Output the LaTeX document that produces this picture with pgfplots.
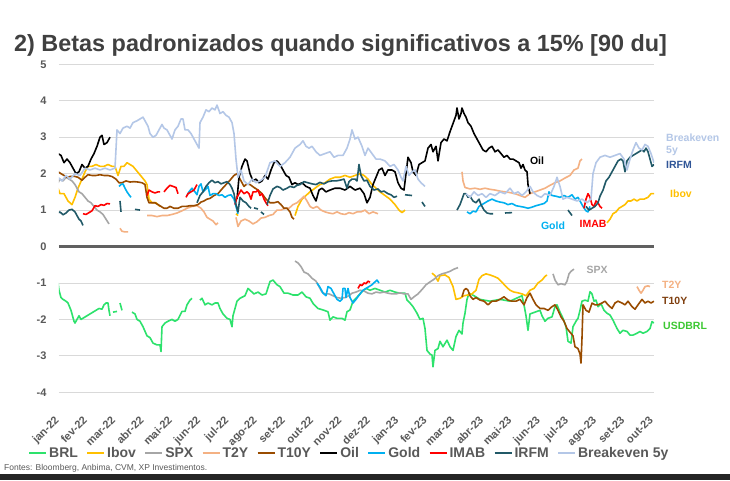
\documentclass[border=0pt]{standalone}
\usepackage{fontspec}
\setmainfont{Liberation Sans}
\usepackage{pgfplots}
\pgfplotsset{compat=1.18}
\definecolor{brl}{RGB}{45,226,108}
\definecolor{ibov}{RGB}{255,192,0}
\definecolor{spx}{RGB}{166,166,166}
\definecolor{ttwo}{RGB}{244,177,131}
\definecolor{tten}{RGB}{153,76,0}
\definecolor{gold}{RGB}{0,176,240}
\definecolor{imab}{RGB}{255,0,0}
\definecolor{irfm}{RGB}{33,89,103}
\definecolor{bk}{RGB}{180,199,231}
\definecolor{irfmlab}{RGB}{47,85,151}
\definecolor{tenlab}{RGB}{127,63,15}
\definecolor{brllab}{RGB}{60,200,50}
\definecolor{labelgrey}{RGB}{89,89,89}
\definecolor{titlegrey}{RGB}{64,64,64}
\definecolor{gridgrey}{RGB}{217,217,217}
\definecolor{zerogrey}{RGB}{96,96,96}
\definecolor{darkbar}{RGB}{38,38,38}
\begin{document}
\begin{tikzpicture}
\path[use as bounding box] (0pt,0pt) rectangle (730pt,480pt);
\fill[white] (0pt,0pt) rectangle (730pt,480pt);
\fill[darkbar] (0pt,0pt) rectangle (730pt,6pt);
\node[anchor=base west, inner sep=0, text=titlegrey, font=\bfseries\fontsize{23.4}{27}\selectfont] at (14pt,428pt) {2) Betas padronizados quando significativos a 15\% [90 du]};
\node[anchor=base west, inner sep=0, text=labelgrey, font=\fontsize{8.5}{10}\selectfont] at (4pt,10pt) {Fontes: Bloomberg, Anbima, CVM, XP Investimentos.};
\begin{axis}[
  at={(59pt,87.7pt)}, anchor=south west,
  scale only axis, width=595pt, height=328pt,
  xmin=59, xmax=654, ymin=-4, ymax=5,
  axis line style={draw=none},
  major tick style={draw=none},
  ytick={-4,-3,-2,-1,0,1,2,3,4,5},
  yticklabels={-4,-3,-2,-1,0,1,2,3,4,5},
  yticklabel style={font=\bfseries\fontsize{11}{12}\selectfont, text=labelgrey, xshift=-9pt},
  ymajorgrids, grid style={gridgrey, line width=0.9pt},
  xtick={59.5,87.8,116.1,144.4,172.7,201,229.3,257.6,285.9,314.2,342.5,370.8,399.1,427.4,455.7,484,512.3,540.6,568.9,597.2,625.5,653.8},
  xticklabels={jan-22,fev-22,mar-22,abr-22,mai-22,jun-22,jul-22,ago-22,set-22,out-22,nov-22,dez-22,jan-23,fev-23,mar-23,abr-23,mai-23,jun-23,jul-23,ago-23,set-23,out-23},
  xticklabel style={rotate=45, anchor=north east, xshift=-17pt, yshift=-9pt, font=\bfseries\fontsize{11}{12}\selectfont, text=labelgrey},
  unbounded coords=jump,
  every axis plot/.append style={line width=1.6pt, line join=round},
  legend style={at={(0.488,-0.186)}, anchor=center, draw=none, fill=none, font=\bfseries\fontsize{14}{16}\selectfont, text=labelgrey, legend columns=-1, /tikz/every even column/.append style={column sep=6.5pt}},
  legend image code/.code={\draw[#1, line width=1.8pt] (0pt,0pt) -- (17pt,0pt);},
]
\addlegendimage{brl}\addlegendentry{BRL}
\addlegendimage{ibov}\addlegendentry{Ibov}
\addlegendimage{spx}\addlegendentry{SPX}
\addlegendimage{ttwo}\addlegendentry{T2Y}
\addlegendimage{tten}\addlegendentry{T10Y}
\addlegendimage{black}\addlegendentry{Oil}
\addlegendimage{gold}\addlegendentry{Gold}
\addlegendimage{imab}\addlegendentry{IMAB}
\addlegendimage{irfm}\addlegendentry{IRFM}
\addlegendimage{bk}\addlegendentry{Breakeven 5y}

\addplot[forget plot, zerogrey, line width=2.4pt] coordinates {(59,0) (654,0)};

% BRL
\addplot[forget plot, brl] coordinates {
(58,-1.0) (59,-1.2) (61,-1.4) (63,-1.45) (66,-1.5) (68,-1.55) (71,-1.75) (74,-2.05) (75,-2.1) (77,-2.0) (79,-1.9) (81,-2.0) (84,-1.95) (87,-1.9) (90,-1.85) (93,-1.8) (96,-1.75) (99,-1.7) (102,-1.72) (104,-1.6) (106,-1.55) (108,-1.55) (109,-1.75) (110,-1.9)
(112,nan) (113,-1.8) (117,-1.78) (118,nan) (120,-1.55) (122,-1.75) (124,nan)
(132,-1.8) (135,-1.85) (137,-2.0) (140,-2.05) (143,-2.2) (147,-2.45) (150,-2.5) (153,-2.65) (157,-2.7) (160,-2.7) (161,-2.88) (162,-2.2) (165,-2.1) (168,-2.05) (172,-2.0) (175,-2.05) (178,-2.0) (182,-1.78) (185,-1.78) (187,-1.6) (190,-1.47) (192,-1.42)
(195,nan) (200,-1.47) (202,-1.42) (205,-1.6) (208,-1.55) (212,-1.6) (215,-1.55) (218,-1.55) (220,-1.7) (223,-1.85) (227,-1.97) (230,-2.0) (232,-2.2) (233,-1.9) (237,-1.5) (240,-1.42) (245,-1.35) (248,-1.15) (250,-1.2) (254,-1.3) (258,-1.25) (262,-1.33) (266,-1.3) (270,-0.96) (273,-0.92) (277,-1.05) (280,-1.1) (284,-1.28) (288,-1.28) (293,-1.33) (298,-1.33) (302,-1.25) (306,-1.38) (310,-1.42) (313,-1.56) (318,-1.7) (323,-1.74) (328,-1.79) (330,-2.02) (333,-1.93) (337,-1.97) (342,-1.97) (345,-2.02) (347,-1.79) (350,-1.74) (353,-1.5) (356,-1.42) (359,-1.33) (362,-1.24) (366,-1.15) (370,-1.2) (375,-1.15) (380,-1.2) (385,-1.25) (390,-1.2) (395,-1.25) (400,-1.28) (405,-1.28) (407,-1.47) (410,-1.55) (413,-1.65) (417,-1.83) (420,-2.0) (423,-1.97) (425,-2.25) (427,-2.85) (430,-2.95) (432,-2.98) (433,-3.3) (435,-2.85) (438,-2.8) (440,-2.6) (443,-2.75) (447,-2.57) (450,-2.75) (453,-2.85) (456,-2.47) (459,-2.3) (462,-2.4) (463,-2.1) (465,-1.83) (467,-1.45) (469,-1.28) (474,-1.35) (480,-1.45) (490,-1.5) (500,-1.45) (510,-1.5) (518,-1.4) (522,-1.35) (524,-1.6) (526,-1.9) (528,-2.3) (530,-1.85) (535,-1.8) (540,-1.75) (542,-1.9) (545,-2.05) (548,-1.97) (552,-1.93) (555,-1.65) (557,-1.6) (560,-1.8) (563,-1.97) (566,-2.2) (568,-2.6) (571,-2.65) (573,-2.2) (576,-2.05) (578,-1.97) (580,-1.75) (582,-1.5) (585,-1.47) (588,-1.5) (590,-1.24) (592,-1.3) (594,-1.5) (596,-1.47) (598,-1.65) (601,-1.57) (604,-1.75) (607,-1.83) (610,-1.88) (613,-2.02) (617,-2.25) (620,-2.38) (623,-2.3) (627,-2.33) (630,-2.43) (633,-2.43) (637,-2.38) (640,-2.33) (643,-2.38) (647,-2.33) (650,-2.25) (652,-2.06) (654,-2.1)
};

% Ibov
\addplot[forget plot, ibov] coordinates {
(58,1.6) (60,1.45) (64,1.45) (68,1.25) (72,1.15) (75,1.35) (78,1.6) (82,1.85) (85,2.05) (88,2.2) (92,2.2) (96,2.25) (100,2.2) (104,2.2) (108,2.25) (112,2.2) (115,2.2) (118,1.95) (121,2.2) (124,2.2) (127,2.3) (130,2.25) (133,2.2) (136,2.1) (139,2.0) (142,1.9) (145,1.8) (147,1.7) (149,1.3) (152,1.2) (156,1.2) (160,1.1)
(162,nan) (236,0.9) (238,0.85) (240,nan)
(295,0.85) (298,1.1) (302,1.3) (306,1.4) (310,1.5) (315,1.6) (320,1.7) (325,1.75) (330,1.85) (335,1.9) (340,1.9) (345,1.95) (350,1.9) (355,1.95) (360,2.0) (364,1.95) (368,1.85) (372,1.7) (376,1.6) (380,1.5) (385,1.4) (390,1.3) (395,1.15) (399,1.0) (402,0.93) (405,1.0)
(410,nan) (432,-0.73) (435,-0.8) (438,-0.95) (440,-0.8) (445,-0.78) (449,-0.85) (453,-1.1) (456,-1.45) (460,-1.42) (464,-1.35) (468,-1.33) (472,-1.3) (476,-1.2) (479,-0.9) (482,-0.8) (486,-0.75) (490,-0.78) (494,-0.82) (498,-0.87) (502,-0.98) (506,-1.1) (510,-1.2) (514,-1.25) (518,-1.27) (522,-1.3) (526,-1.35) (530,-1.2) (534,-1.15) (538,-1.0) (542,-0.92) (545,-0.82) (547,-0.78)
(550,nan) (607,0.65) (610,0.75) (613,0.9) (616,0.95) (619,1.05) (622,1.1) (625,1.15) (628,1.25) (631,1.25) (634,1.3) (637,1.25) (640,1.3) (644,1.3) (648,1.35) (651,1.45) (654,1.45)
};

% SPX
\addplot[forget plot, spx] coordinates {
(58,1.75) (60,1.85) (63,1.8) (66,1.9) (69,1.85) (72,1.8) (75,1.7) (77,1.6) (79,1.5) (82,1.45) (85,1.35) (88,1.25) (91,1.2) (94,1.1) (97,1.0) (100,0.95) (103,0.88) (106,0.75) (109,0.62)
(112,nan) (295,-0.4) (298,-0.45) (301,-0.55) (304,-0.7) (308,-0.75) (312,-0.87) (316,-0.95) (319,-1.1) (322,-1.25) (325,-1.3) (329,-1.3) (333,-1.35) (337,-1.4) (341,-1.42) (345,-1.4) (349,-1.35) (352,-1.28) (356,-1.25) (360,-1.2) (364,-1.22) (368,-1.28) (372,-1.3) (376,-1.25) (380,-1.27) (384,-1.25) (388,-1.28) (392,-1.3) (396,-1.3) (400,-1.27) (404,-1.3) (408,-1.3) (411,-1.45) (414,-1.38) (418,-1.3) (422,-1.18) (426,-1.05) (430,-0.97) (434,-0.9) (438,-0.8) (442,-0.75) (446,-0.72) (450,-0.68) (454,-0.62) (458,-0.58)
(500,nan) (553,-0.75) (555,-0.92) (558,-1.05) (561,-1.02) (565,-1.05) (567,-0.95) (569,-0.75) (571,-0.68) (574,-0.62)
};

% T2Y
\addplot[forget plot, ttwo] coordinates {
(120,0.5) (122,0.42) (125,0.4) (128,0.4)
(135,nan) (147,0.85) (152,0.85) (157,0.82) (162,0.85) (167,0.85) (172,0.88) (177,0.92) (182,0.98) (187,1.05) (192,1.1) (197,1.12) (201,1.05) (204,0.95) (207,0.8) (210,0.75) (213,0.7) (216,0.6) (218,0.65)
(225,nan) (236,0.8) (238,0.55) (241,0.7) (245,0.75) (249,0.7) (253,0.62) (257,0.68) (261,0.78) (265,0.8) (269,0.85) (273,0.88) (277,1.0) (281,1.0) (285,1.05) (289,1.05) (293,1.15) (297,1.2) (301,1.3) (304,1.38) (307,1.25) (310,1.1) (313,1.05) (317,1.1) (321,1.0) (325,0.95) (329,0.92) (333,0.9) (337,0.95) (341,0.9) (345,0.88) (349,0.93) (353,0.9) (357,0.95) (361,0.95) (365,1.0) (369,0.9) (373,0.95) (378,0.9)
(400,nan) (462,2.05) (463,1.8) (465,1.62) (470,1.58) (475,1.6) (480,1.57) (485,1.6) (490,1.57) (495,1.55) (500,1.52) (505,1.5) (510,1.48) (515,1.45) (520,1.4) (525,1.35) (530,1.45) (535,1.5) (540,1.55) (545,1.6) (550,1.68) (555,1.75) (560,1.8) (565,1.88) (570,1.95) (574,2.1) (578,2.15) (580,2.35) (582,2.4)
(600,nan) (637,-1.1) (639,-1.2) (641,-1.28) (643,-1.2) (645,-1.1) (648,-1.08) (650,-1.1)
};

% T10Y
\addplot[forget plot, tten] coordinates {
(58,2.05) (61,2.0) (64,1.95) (67,1.9) (70,1.92) (74,1.93) (78,1.9) (82,1.82) (85,1.9) (88,1.97) (92,1.95) (96,1.95) (100,1.97) (104,1.95) (108,1.95) (112,1.92) (116,1.85) (119,1.75) (122,1.75) (126,1.8) (130,1.77) (134,1.78) (138,1.77) (142,1.75) (145,1.7) (147,1.35) (149,1.2) (152,1.2) (155,1.2) (158,1.15) (161,1.1) (164,1.05) (167,1.05) (170,1.1) (174,1.05) (178,1.05) (182,1.1) (186,1.1) (190,1.12) (194,1.12) (198,1.15) (201,1.22) (204,1.25) (207,1.3) (210,1.32) (214,1.4) (218,1.45) (222,1.58) (226,1.7) (230,1.82) (234,1.95) (237,2.0) (239,1.9) (242,1.75) (244,1.65) (247,1.72) (250,1.7) (254,1.62) (258,1.55) (262,1.45) (266,1.3) (270,1.2) (274,1.2) (278,1.23) (281,1.15) (284,1.05) (287,1.05) (290,0.95) (292,0.8) (294,0.75)
(300,nan) (462,-1.38) (464,-1.2) (466,-1.15) (468,-1.2) (470,-1.35) (473,-1.45) (476,-1.4) (480,-1.47) (484,-1.5) (488,-1.6) (492,-1.5) (496,-1.5) (500,-1.45) (504,-1.38) (508,-1.47) (512,-1.5) (516,-1.5) (520,-1.45) (524,-1.6) (527,-1.4) (530,-1.28) (533,-1.45) (536,-1.6) (540,-1.7) (544,-1.7) (548,-1.75) (552,-1.65) (555,-1.6) (558,-1.75) (561,-1.93) (564,-2.05) (567,-2.25) (570,-2.35) (573,-2.45) (575,-2.75) (578,-2.8) (580,-2.95) (581,-3.2) (582,-2.5) (583,-1.6) (586,-1.75) (589,-1.8) (592,-1.55) (595,-1.6) (598,-1.6) (602,-1.55) (605,-1.5) (608,-1.6) (612,-1.7) (615,-1.55) (618,-1.5) (622,-1.55) (625,-1.6) (628,-1.5) (632,-1.65) (635,-1.72) (638,-1.6) (642,-1.45) (645,-1.55) (648,-1.5) (651,-1.55) (654,-1.5)
};

% Oil
\addplot[forget plot, black] coordinates {
(58,2.55) (61,2.5) (64,2.3) (67,2.4) (70,2.3) (73,2.15) (76,2.0) (79,2.05) (82,2.25) (85,2.15) (88,2.2) (91,2.4) (94,2.55) (97,2.75) (100,3.0) (102,3.05) (104,2.8) (107,2.85) (110,3.0)
(120,nan) (237,1.3) (239,1.9) (242,2.2) (245,2.4) (247,2.35) (250,2.0) (253,1.8) (256,1.85) (259,1.75) (262,1.8) (265,1.95) (268,1.85) (271,2.1) (274,2.3) (277,2.35) (280,2.25) (283,2.1) (286,1.95) (289,1.9) (292,1.7) (295,1.75) (298,1.7) (302,1.75) (306,1.65) (310,1.6) (313,1.4) (316,1.25) (319,1.55) (322,1.6) (326,1.5) (330,1.55) (335,1.6) (340,1.6) (345,1.55) (350,1.65) (355,1.55) (360,1.6) (364,1.45) (367,1.2) (370,1.35) (373,1.7) (376,1.9) (379,2.1) (382,2.15) (385,1.95) (388,2.1) (392,2.1) (395,2.05) (398,1.75) (401,1.6) (404,1.55) (406,2.0) (408,2.45) (411,2.3) (413,2.05) (416,1.95) (419,2.25) (422,2.3) (425,2.35) (428,2.7) (431,2.8) (433,2.6) (436,2.75) (438,2.35) (441,2.85) (444,2.95) (447,2.9) (450,3.15) (452,3.3) (454,3.45) (456,3.6) (457,3.8) (459,3.5) (461,3.65) (462,3.8) (464,3.65) (466,3.55) (468,3.4) (471,3.3) (474,3.1) (477,2.95) (480,2.8) (483,2.65) (486,2.6) (489,2.7) (492,2.75) (495,2.6) (498,2.65) (501,2.55) (504,2.45) (507,2.5) (510,2.4) (513,2.4) (516,2.35) (519,2.3) (521,2.15) (523,2.25) (525,2.1) (527,2.05) (528,1.7) (530,1.45)
};

% Gold
\addplot[forget plot, gold] coordinates {
(119,1.65) (121,1.7) (123,1.72) (125,1.6) (127,1.5) (129,1.42) (131,1.35)
(140,nan) (187,1.4) (189,1.5) (192,1.6) (195,1.5) (197,1.42) (199,1.65) (201,1.72) (203,1.5) (206,1.58) (208,1.65) (210,1.4) (213,1.45) (216,1.45) (219,1.4) (222,1.42) (225,1.35) (228,1.4) (231,1.42) (234,1.3) (236,1.1) (238,0.9)
(250,nan) (317,-1.0) (320,-1.12) (323,-1.28) (326,-1.35) (328,-1.1) (331,-1.15) (334,-1.3) (337,-1.45) (340,-1.5) (342,-1.45) (343,-1.15) (345,-1.15) (346,-1.4) (348,-1.15) (350,-1.4) (353,-1.55) (356,-1.45) (360,-1.3) (363,-1.2) (366,-1.15) (369,-1.1) (372,-1.05) (375,-0.97) (377,-0.92) (379,-1.0)
(400,nan) (467,0.95) (470,0.9) (473,0.97) (476,0.95) (479,1.1) (482,1.15) (485,1.2) (488,1.25) (492,1.3) (496,1.25) (500,1.22) (504,1.2) (508,1.15) (512,1.18) (516,1.12) (520,1.1) (524,1.08) (528,1.05) (532,1.08) (536,1.12) (540,1.15) (544,1.18) (547,1.25) (549,1.5) (552,1.4) (556,1.38) (560,1.35) (564,1.4) (568,1.35) (572,1.42) (575,1.3) (578,1.35) (580,1.25) (583,1.1) (586,0.98) (588,0.95) (590,1.1)
};

% IMAB
\addplot[forget plot, imab] coordinates {
(83,0.9) (86,0.88) (89,0.93) (92,0.98) (95,1.12) (98,1.1) (101,1.15) (104,1.13) (107,1.18) (110,1.17)
(120,nan) (147,1.4) (149,1.55) (152,1.5) (155,1.47) (158,1.5) (160,1.5)
(162,nan) (164,1.5) (167,1.6) (170,1.68) (173,1.65) (176,1.62) (178,1.45)
(182,nan) (186,1.35) (188,1.45) (191,1.5) (194,1.55) (197,1.7)
(210,nan) (235,1.15) (237,1.35) (239,1.45) (241,1.55) (244,1.45) (247,1.5) (249,1.45) (251,1.3) (253,1.5) (256,1.5) (258,1.55) (260,1.4) (262,1.45) (264,1.3) (266,1.2) (268,1.12)
(300,nan) (358,-1.15) (360,-1.05) (362,-1.07) (364,-1.0) (366,-1.02) (368,-0.95) (370,-0.98)
(400,nan) (584,1.05) (586,1.3) (588,1.45) (590,1.35) (592,1.15) (594,1.1) (596,1.25) (598,1.2) (600,1.1) (602,1.05)
};

% IRFM
\addplot[forget plot, irfm] coordinates {
(58,0.92) (60,0.95) (63,0.87) (66,0.92) (69,1.0) (72,1.02) (75,0.95) (77,0.85) (79,0.75) (81,0.7) (83,0.58)
(100,nan) (120,1.25) (121,0.95) (125,nan) (135,1.02) (140,1.0)
(150,nan) (197,1.2) (200,1.4) (203,1.5) (206,1.65) (209,1.75) (212,1.82) (215,1.75) (218,1.78) (221,1.72) (224,1.75) (227,1.78) (230,1.7) (232,1.6) (234,1.45) (236,1.15) (238,0.95) (240,1.35) (243,1.25) (246,1.2) (249,1.1) (251,1.05)
(252,nan) (254,1.06) (258,1.03) (259,nan) (261,0.95) (264,0.88) (265,nan)
(267,1.15) (270,1.4) (273,1.58) (277,1.65) (280,1.62) (283,1.55) (287,1.6) (290,1.65) (294,1.62) (297,1.68) (300,1.7) (304,1.78) (308,1.75) (312,1.72) (316,1.7) (320,1.76) (324,1.72) (328,1.78) (332,1.8) (336,1.8) (340,1.82) (344,1.85) (347,1.6) (349,1.78) (352,1.85) (355,1.85) (357,1.8) (359,2.25) (361,1.95) (364,1.8) (367,1.82) (370,1.65) (374,1.55) (378,1.58) (381,1.5) (384,1.52) (388,1.45) (391,1.42) (394,1.35) (397,1.38)
(400,nan) (405,1.42) (412,1.4) (415,nan) (422,1.22) (425,1.1)
(430,nan) (457,1.0) (460,1.15) (462,1.3) (464,1.45) (466,1.45) (468,1.35) (470,1.38) (473,1.25) (476,1.2) (479,1.3) (481,1.15) (484,1.0) (487,0.92) (490,0.9) (493,0.9)
(500,nan) (505,0.92) (512,0.93) (520,nan) (568,1.0) (572,0.85)
(580,nan) (586,1.1) (589,1.0) (592,1.05) (595,1.1) (598,1.2) (600,1.38) (603,1.55) (606,1.8) (609,1.9) (612,2.05) (615,2.2) (618,2.35) (621,2.4) (623,2.35) (625,2.05) (627,2.35) (630,2.45) (633,2.5) (636,2.55) (639,2.6) (642,2.65) (644,2.6) (646,2.7) (648,2.6) (650,2.4) (652,2.2) (654,2.25)
};

% Breakeven 5y
\addplot[forget plot, bk] coordinates {
(58,1.9) (62,1.8) (66,1.95) (70,1.85) (75,2.0) (80,1.95) (85,2.15) (90,2.1) (95,2.15) (100,2.1) (105,2.15) (110,2.1) (115,2.15) (117,3.2) (120,3.1) (123,3.25) (127,3.3) (130,3.25) (133,3.4) (137,3.45) (140,3.5) (143,3.55) (146,3.4) (148,3.3) (150,3.1) (153,3.0) (156,3.05) (159,3.2) (162,3.35) (164,3.25) (167,3.2) (170,3.05) (172,2.95) (175,3.2) (178,3.3) (181,3.5) (183,3.5) (185,3.2) (188,3.2) (191,3.1) (194,2.95) (197,2.8) (199,2.7) (200,3.4) (203,3.55) (206,3.75) (209,3.7) (212,3.8) (215,3.75) (217,3.88) (220,3.65) (223,3.7) (226,3.6) (229,3.55) (232,3.4) (234,3.1) (236,2.4) (238,1.9) (241,2.1) (244,1.8) (248,1.7) (252,1.85) (256,1.75) (260,1.8) (265,1.9) (270,2.3) (275,2.35) (280,2.2) (285,2.3) (290,2.45) (295,2.7) (300,2.8) (303,2.9) (306,2.75) (309,2.7) (312,2.75) (316,2.6) (320,2.5) (325,2.55) (330,2.6) (334,2.45) (338,2.5) (343,2.5) (347,2.7) (350,2.95) (352,3.2) (355,2.95) (358,3.0) (362,2.75) (365,2.5) (368,2.7) (372,2.55) (376,2.4) (380,2.4) (385,2.35) (390,2.2) (394,2.25) (398,2.1) (401,1.9) (403,1.8) (406,2.2) (409,1.95) (412,2.05) (415,2.1) (418,1.85) (421,1.75) (425,1.65)
(440,nan) (466,1.45) (470,1.35) (474,1.5) (478,1.4) (482,1.45) (486,1.35) (490,1.45) (495,1.4) (500,1.5) (505,1.45) (510,1.6) (514,1.45) (518,1.5) (522,1.4) (526,1.5) (530,1.65) (533,1.5) (537,1.4) (541,1.35) (545,1.45) (550,1.4) (554,1.65) (557,1.9) (560,1.65) (563,1.3) (567,1.35) (572,1.3) (577,1.25) (582,1.3) (587,1.2) (591,1.3) (593,2.0) (596,2.3) (600,2.45) (605,2.5) (610,2.45) (615,2.5) (620,2.55) (624,2.4) (627,2.1) (630,2.4) (633,2.65) (636,2.85) (639,2.7) (642,2.65) (645,2.8) (648,2.75) (651,2.55) (654,2.3)
};
\end{axis}
\begin{scope}[every node/.style={inner sep=0, font=\bfseries\fontsize{10.5}{12}\selectfont}]
\node[anchor=west, align=left, text=bk] at (666pt,335pt) {Breakeven\\5y};
\node[anchor=west, text=irfmlab] at (666pt,315pt) {IRFM};
\node[anchor=west, text=ibov] at (670pt,286pt) {Ibov};
\node[text=black] at (537pt,319pt) {Oil};
\node[text=gold] at (553pt,254pt) {Gold};
\node[text=imab] at (593pt,256pt) {IMAB};
\node[text=spx] at (597pt,210pt) {SPX};
\node[anchor=west, text=ttwo] at (662pt,195pt) {T2Y};
\node[anchor=west, text=tenlab] at (662pt,179pt) {T10Y};
\node[anchor=west, text=brllab] at (663pt,154pt) {USDBRL};
\end{scope}
\end{tikzpicture}
\end{document}
